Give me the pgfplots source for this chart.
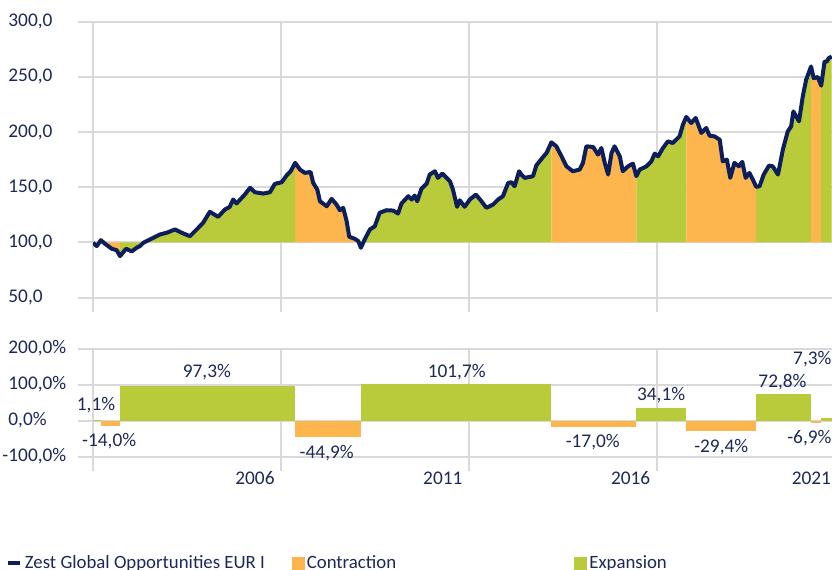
\documentclass[border=0pt]{standalone}
\usepackage{fontspec}
\setmainfont{Carlito}
\usepackage{pgfplots}
\usepackage{pgfplotstable}
\pgfplotsset{compat=1.18}
\definecolor{navy}{RGB}{12,30,92}
\definecolor{textnavy}{RGB}{28,40,90}
\definecolor{orng}{RGB}{253,182,77}
\definecolor{grn}{RGB}{185,203,59}
\definecolor{gridgray}{RGB}{217,217,217}

\pgfplotstableread{
x y
2001.00 99.7
2001.10 96.7
2001.21 102.1
2001.32 98.8
2001.50 94.3
2001.63 93.0
2001.72 87.6
2001.88 94.3
2002.03 91.9
2002.16 95.2
2002.25 96.7
2002.34 99.7
2002.60 104.2
2002.78 107.2
2002.96 108.8
2003.18 111.8
2003.36 108.8
2003.58 105.7
2003.76 111.8
2003.93 117.8
2004.11 127.8
2004.33 123.2
2004.51 129.8
2004.64 132.3
2004.73 138.9
2004.82 135.3
2005.04 143.4
2005.18 149.5
2005.31 145.5
2005.53 144.3
2005.71 145.5
2005.84 153.1
2006.02 154.5
2006.15 160.6
2006.26 164.5
2006.38 172.1
2006.51 166.0
2006.64 163.0
2006.79 163.9
2006.86 154.0
2006.97 147.9
2007.04 137.3
2007.22 132.8
2007.35 139.5
2007.48 134.4
2007.57 129.2
2007.66 131.4
2007.75 119.3
2007.82 105.2
2007.97 103.3
2008.06 101.2
2008.13 95.2
2008.23 102.7
2008.37 111.8
2008.50 114.7
2008.63 126.9
2008.81 129.2
2008.99 128.9
2009.12 126.2
2009.21 135.3
2009.39 141.9
2009.48 138.9
2009.56 142.5
2009.63 137.3
2009.74 148.6
2009.88 153.3
2009.96 161.5
2010.10 164.5
2010.18 158.5
2010.30 162.4
2010.50 155.4
2010.58 147.9
2010.69 132.3
2010.76 138.2
2010.89 132.3
2011.03 138.9
2011.19 143.4
2011.34 137.3
2011.47 131.4
2011.65 134.4
2011.78 138.9
2011.91 141.9
2012.05 154.0
2012.14 154.5
2012.22 150.9
2012.34 164.5
2012.40 161.5
2012.49 158.5
2012.71 160.0
2012.80 169.9
2012.98 177.5
2013.07 181.1
2013.20 190.7
2013.33 187.1
2013.47 178.0
2013.60 169.0
2013.77 164.5
2013.95 166.0
2014.04 172.1
2014.13 187.1
2014.31 186.5
2014.44 179.6
2014.53 185.6
2014.62 172.1
2014.71 161.5
2014.80 181.1
2014.88 187.1
2015.02 178.0
2015.10 164.5
2015.24 169.0
2015.37 171.4
2015.46 160.0
2015.55 166.0
2015.73 169.0
2015.86 173.5
2015.95 180.5
2016.04 178.0
2016.17 185.6
2016.30 191.6
2016.43 190.1
2016.61 196.1
2016.70 206.7
2016.79 213.7
2016.92 208.2
2017.04 212.8
2017.19 199.2
2017.32 203.7
2017.41 196.7
2017.54 196.1
2017.68 193.1
2017.76 173.5
2017.87 175.0
2017.96 158.5
2018.07 172.1
2018.19 169.0
2018.28 173.0
2018.37 158.5
2018.47 163.0
2018.56 157.0
2018.65 150.4
2018.74 150.9
2018.85 161.5
2018.99 169.6
2019.09 169.0
2019.23 161.5
2019.36 184.1
2019.49 200.6
2019.58 205.2
2019.64 218.7
2019.79 209.7
2019.89 232.3
2019.98 247.4
2020.11 259.4
2020.18 248.9
2020.29 249.8
2020.38 242.0
2020.47 263.9
2020.53 263.9
2020.58 267.0
2020.66 268.4
}\fund

\pgfplotsset{
  common/.style={
    scale only axis, width=569.25pt, xmin=2001, xmax=2021.2,
    axis line style={draw=none},
    tick align=outside, tick pos=left,
    major tick length=11pt,
    tick style={draw=gridgray, line width=1.5pt},
    grid=major, major grid style={draw=gridgray, line width=1.5pt},
    xtick={2001,2006,2011,2016,2021}, xticklabels={},
    ticklabel style={text=textnavy},
    yticklabel style={anchor=west, xshift=-57.5pt},
  },
}

\begin{document}
\fontsize{14.5pt}{17pt}\selectfont
\begin{tikzpicture}
\path[use as bounding box] (0,0) rectangle (624pt,426.75pt);

% top panel: index level, plotted relative to the 100 base line
\begin{axis}[common, at={(69.75pt,203.5pt)}, anchor=south west, height=207pt,
  ymin=-50, ymax=200, ytick={-50,0,50,100,150,200},
  yticklabels={{50,0},{100,0},{150,0},{200,0},{250,0},{300,0}}]
\addplot[fill=grn, draw=none, forget plot] table[x=x, y expr=\thisrow{y}-100, restrict x to domain=2000.995:2001.215] {\fund} \closedcycle;
\addplot[fill=orng, draw=none, forget plot] table[x=x, y expr=\thisrow{y}-100, restrict x to domain=2001.205:2001.725] {\fund} \closedcycle;
\addplot[fill=grn, draw=none, forget plot] table[x=x, y expr=\thisrow{y}-100, restrict x to domain=2001.715:2006.385] {\fund} \closedcycle;
\addplot[fill=orng, draw=none, forget plot] table[x=x, y expr=\thisrow{y}-100, restrict x to domain=2006.375:2008.135] {\fund} \closedcycle;
\addplot[fill=grn, draw=none, forget plot] table[x=x, y expr=\thisrow{y}-100, restrict x to domain=2008.125:2013.205] {\fund} \closedcycle;
\addplot[fill=orng, draw=none, forget plot] table[x=x, y expr=\thisrow{y}-100, restrict x to domain=2013.195:2015.465] {\fund} \closedcycle;
\addplot[fill=grn, draw=none, forget plot] table[x=x, y expr=\thisrow{y}-100, restrict x to domain=2015.455:2016.795] {\fund} \closedcycle;
\addplot[fill=orng, draw=none, forget plot] table[x=x, y expr=\thisrow{y}-100, restrict x to domain=2016.785:2018.655] {\fund} \closedcycle;
\addplot[fill=grn, draw=none, forget plot] table[x=x, y expr=\thisrow{y}-100, restrict x to domain=2018.645:2020.115] {\fund} \closedcycle;
\addplot[fill=orng, draw=none, forget plot] table[x=x, y expr=\thisrow{y}-100, restrict x to domain=2020.105:2020.385] {\fund} \closedcycle;
\addplot[fill=grn, draw=none, forget plot] table[x=x, y expr=\thisrow{y}-100, restrict x to domain=2020.375:2020.665] {\fund} \closedcycle;
\addplot[navy, line width=3pt, line join=round, mark=none, forget plot] table[x=x, y expr=\thisrow{y}-100] {\fund};
\end{axis}

% bottom panel
\begin{axis}[common, at={(69.75pt,84.3pt)}, anchor=south west, height=81pt,
  clip mode=individual,
  ymin=-100, ymax=200, ytick={-100,0,100,200},
  yticklabels={{\llap{-}100,0\%},{0,0\%},{100,0\%},{200,0\%}},
  extra x ticks={2005.31,2010.31,2015.31,2020.12},
  extra x tick labels={2006,2011,2016,2021},
  extra x tick style={grid=none, major tick length=0pt, tick style={draw=none},
    tick label style={anchor=center, yshift=-16pt}},
  legend columns=3, legend cell align=left,
  legend style={at={(-0.1146,-0.985)}, anchor=west, draw=none, fill=none,
    inner sep=0pt, text=textnavy, font=\fontsize{14.1pt}{17pt}\selectfont,
    /tikz/every even column/.append style={column sep=0pt}},
  ]
\addplot[fill=grn, draw=none, forget plot] coordinates {(2001,1.1) (2001.21,1.1)} \closedcycle;
\addplot[fill=orng, draw=none, forget plot] coordinates {(2001.21,-14.0) (2001.72,-14.0)} \closedcycle;
\addplot[fill=grn, draw=none, forget plot] coordinates {(2001.72,97.3) (2006.38,97.3)} \closedcycle;
\addplot[fill=orng, draw=none, forget plot] coordinates {(2006.38,-44.9) (2008.13,-44.9)} \closedcycle;
\addplot[fill=grn, draw=none, forget plot] coordinates {(2008.13,101.7) (2013.20,101.7)} \closedcycle;
\addplot[fill=orng, draw=none, forget plot] coordinates {(2013.20,-17.0) (2015.46,-17.0)} \closedcycle;
\addplot[fill=grn, draw=none, forget plot] coordinates {(2015.46,34.1) (2016.79,34.1)} \closedcycle;
\addplot[fill=orng, draw=none, forget plot] coordinates {(2016.79,-29.4) (2018.65,-29.4)} \closedcycle;
\addplot[fill=grn, draw=none, forget plot] coordinates {(2018.65,72.8) (2020.11,72.8)} \closedcycle;
\addplot[fill=orng, draw=none, forget plot] coordinates {(2020.11,-6.9) (2020.38,-6.9)} \closedcycle;
\addplot[fill=grn, draw=none, forget plot] coordinates {(2020.38,7.3) (2021.2,7.3)} \closedcycle;

\begin{scope}[every node/.style={text=textnavy, inner sep=0pt}]
\node at (axis cs:2001.08,41.7) {1,1\%};
\node at (axis cs:2001.43,-58.3) {-14,0\%};
\node at (axis cs:2004.03,133.3) {97,3\%};
\node at (axis cs:2007.22,-91.7) {-44,9\%};
\node at (axis cs:2010.68,134.2) {101,7\%};
\node at (axis cs:2014.30,-61.1) {-17,0\%};
\node at (axis cs:2016.12,69.4) {34,1\%};
\node at (axis cs:2017.72,-74.2) {-29,4\%};
\node at (axis cs:2019.35,106.4) {72,8\%};
\node[anchor=east] at (axis cs:2020.66,172) {7,3\%};
\node[anchor=east] at (axis cs:2020.66,-50) {-6,9\%};
\end{scope}

\addlegendimage{legend image code/.code={\draw[navy, line width=3pt] (0pt,0pt) -- (9pt,0pt);}}
\addlegendentry{\makebox[198pt][l]{Zest Global Opportunities EUR I}}
\addlegendimage{legend image code/.code={\fill[orng] (0pt,-4.5pt) rectangle (9pt,4.5pt);}}
\addlegendentry{\makebox[198.5pt][l]{Contraction}}
\addlegendimage{legend image code/.code={\fill[grn] (0pt,-4.5pt) rectangle (9pt,4.5pt);}}
\addlegendentry{Expansion}
\end{axis}
\end{tikzpicture}
\end{document}
